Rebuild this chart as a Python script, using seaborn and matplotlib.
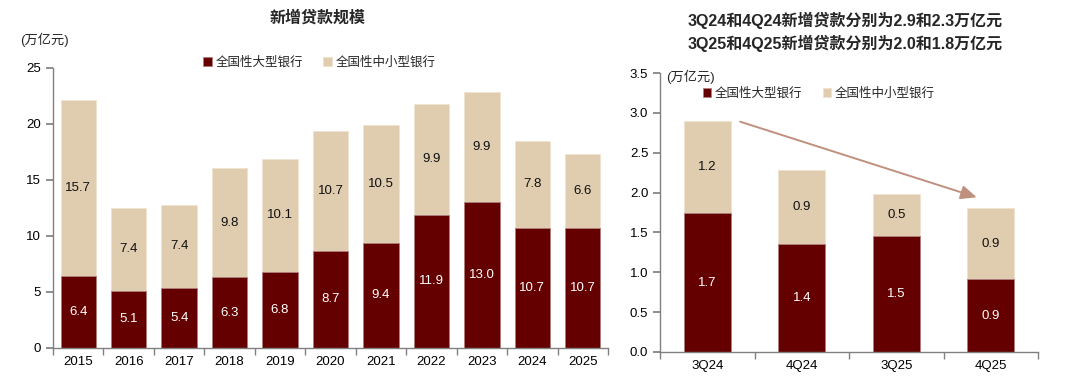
import numpy as np
import pandas as pd
import matplotlib
matplotlib.use("Agg")
import matplotlib.pyplot as plt
import seaborn as sns

# ====================== 数据 ===========================
years = ["2015", "2016", "2017", "2018", "2019", "2020", "2021", "2022", "2023", "2024", "2025"]
big_year = [6.4, 5.1, 5.4, 6.3, 6.8, 8.7, 9.4, 11.9, 13.0, 10.7, 10.7]
small_year = [15.7, 7.4, 7.4, 9.8, 10.1, 10.7, 10.5, 9.9, 9.9, 7.8, 6.6]

quarters = ["3Q24", "4Q24", "3Q25", "4Q25"]
big_q = [1.74, 1.36, 1.46, 0.91]
small_q = [1.16, 0.92, 0.52, 0.90]
big_q_lbl = ["1.7", "1.4", "1.5", "0.9"]
small_q_lbl = ["1.2", "0.9", "0.5", "0.9"]

DARK = "#640000"
BEIGE = "#E0CCAF"
ARROW = "#C0907E"

sns.set_theme(style="white")
plt.rcParams["font.family"] = ["Liberation Sans", "Noto Sans CJK SC", "DejaVu Sans"]
plt.rcParams["axes.unicode_minus"] = False


def stacked(ax, cats, big, small, width):
    df = pd.DataFrame({"cat": cats, "big": big, "total": np.array(big) + np.array(small)})
    sns.barplot(data=df, x="cat", y="total", color=BEIGE, saturation=1, width=width,
                ax=ax, label="全国性中小型银行", edgecolor="#EEE2D0", linewidth=0.6)
    sns.barplot(data=df, x="cat", y="big", color=DARK, saturation=1, width=width,
                ax=ax, label="全国性大型银行", edgecolor="#B08080", linewidth=0.6)
    ax.set_xlabel("")
    ax.set_ylabel("")
    sns.despine(ax=ax)
    for s in ["left", "bottom"]:
        ax.spines[s].set_color("#808080")
        ax.spines[s].set_linewidth(1.0)
    n = len(cats)
    ax.set_xlim(-0.5, n - 0.5)
    ax.set_xticks(np.arange(-0.5, n, 1.0), minor=True)
    ax.tick_params(axis="x", which="major", length=0, labelsize=9.5, pad=6, colors="#000000")
    ax.tick_params(axis="x", which="minor", direction="out", length=5, color="#808080", bottom=True)
    ax.tick_params(axis="y", direction="out", length=5, color="#808080", left=True,
                   labelsize=9.5, colors="#000000")


def legend(ax, x, y):
    h, l = ax.get_legend_handles_labels()
    ax.legend(h[::-1], l[::-1], loc="center", bbox_to_anchor=(x, y), ncol=2, frameon=False,
              fontsize=9, handlelength=0.7, handleheight=0.7, handletextpad=0.3,
              columnspacing=1.6, borderaxespad=0)


fig = plt.figure(figsize=(10.8, 3.87), dpi=100)

# ====================== 年度 ===========================
ax1 = fig.add_axes([53 / 1080, 1 - 348 / 387, 555 / 1080, 280 / 387])
stacked(ax1, years, big_year, small_year, 0.7)
ax1.set_ylim(0, 25)
ax1.set_yticks(range(0, 26, 5))
for i, (b, s) in enumerate(zip(big_year, small_year)):
    ax1.text(i, b / 2, f"{b:.1f}", ha="center", va="center", color="white", fontsize=9.5)
    ax1.text(i, b + s / 2, f"{s:.1f}", ha="center", va="center", color="#111111", fontsize=9.5)
legend(ax1, 0.48, 1.02)
fig.text(318 / 1080, 1 - 18 / 387, "新增贷款规模", ha="center", va="center",
         fontsize=11.5, fontweight="bold")
fig.text(20 / 1080, 1 - 40 / 387, "(万亿元)", ha="left", va="center", fontsize=9.5)

# ====================== 季度 ===========================
ax2 = fig.add_axes([660 / 1080, 1 - 352 / 387, 378 / 1080, 279 / 387])
stacked(ax2, quarters, big_q, small_q, 0.5)
ax2.set_ylim(0, 3.5)
ax2.set_yticks(np.arange(0, 3.51, 0.5))
ax2.set_yticklabels([f"{v:.1f}" for v in np.arange(0, 3.51, 0.5)])
for i in range(len(quarters)):
    ax2.text(i, big_q[i] / 2, big_q_lbl[i], ha="center", va="center", color="white",
             fontsize=9.5)
    ax2.text(i, big_q[i] + small_q[i] / 2, small_q_lbl[i], ha="center", va="center",
             color="#111111", fontsize=9.5)
ax2.annotate("", xy=(2.88, 1.93), xytext=(0.32, 2.9),
             arrowprops=dict(arrowstyle="-|>,head_length=0.8,head_width=0.35",
                             color=ARROW, lw=1.4))
legend(ax2, 0.42, 0.925)
ax2.text(0.015, 0.985, "(万亿元)", transform=ax2.transAxes, ha="left", va="center", fontsize=9.5)
fig.text(845 / 1080, 1 - 20 / 387, "3Q24和4Q24新增贷款分别为2.9和2.3万亿元", ha="center",
         va="center", fontsize=11.5, fontweight="bold")
fig.text(845 / 1080, 1 - 43 / 387, "3Q25和4Q25新增贷款分别为2.0和1.8万亿元", ha="center",
         va="center", fontsize=11.5, fontweight="bold")

fig.savefig("out.png", dpi=100)
plt.close()
